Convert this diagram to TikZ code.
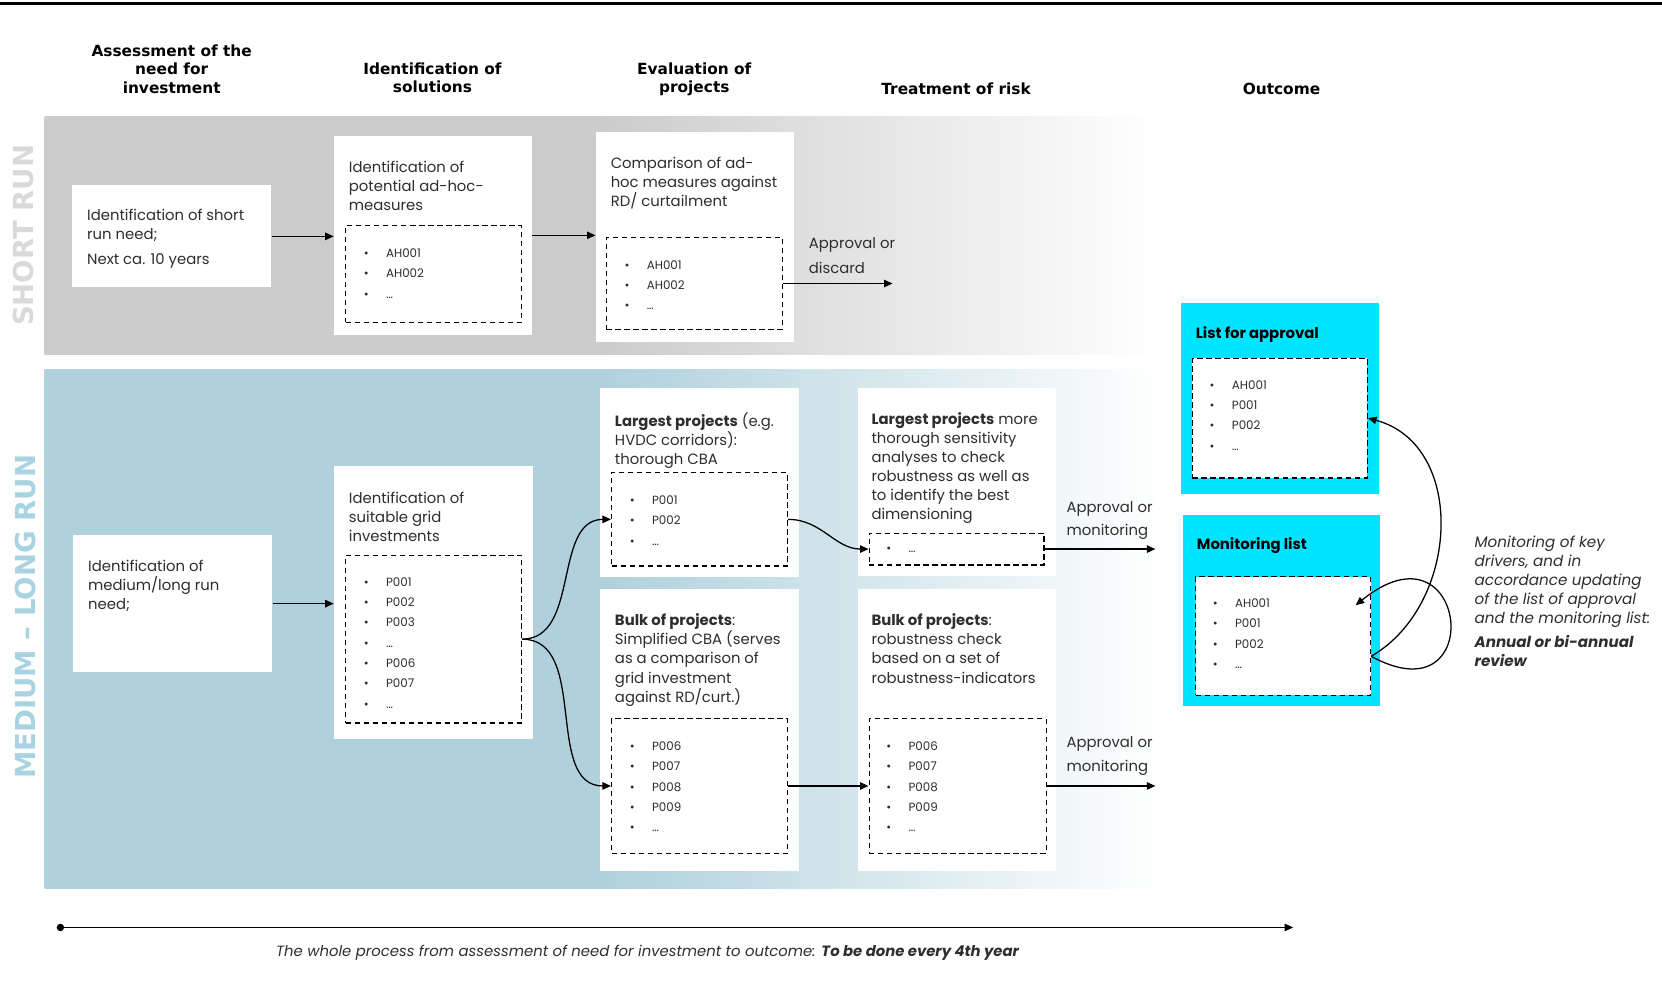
\documentclass[tikz,border=0pt]{standalone}
\usepackage{fontspec}
\setmainfont{Poppins}
\newfontfamily\headfont{DejaVu Sans}
\usetikzlibrary{arrows.meta}

\definecolor{bandgray}{HTML}{CCCCCC}
\definecolor{bandblue}{HTML}{B0D1DC}
\definecolor{labgray}{HTML}{D9D9D9}
\definecolor{labblue}{HTML}{A9D3E1}
\definecolor{outcyan}{HTML}{00E5FF}
\definecolor{ink}{HTML}{2E2E2E}

% bullets of a project list, one line each
\newcommand{\bulletlist}[4]{%
  \foreach \itm [count=\i] in {#4}
    {\node[entry] (#3\i) at (#1,#2+19.2*\i-19.2) {\makebox[21pt][l]{\textbullet}\itm};}}

\begin{document}
\begin{tikzpicture}[x=1pt,y=-1pt,
    card/.style={fill=white,inner sep=0pt},
    cyanbox/.style={fill=outcyan,inner sep=0pt},
    dbox/.style={draw=black,fill=white,line width=1.2pt,dash pattern=on 5pt off 3.5pt,inner sep=0pt},
    txt/.style={anchor=north west,align=left,inner sep=0pt,yshift=4pt,text=ink,
      font=\fontsize{14}{18}\selectfont,execute at begin node=\strut},
    entry/.style={anchor=base west,inner sep=0pt,yshift=-4pt,text=ink,font=\fontsize{11.2}{12}\selectfont},
    colhead/.style={anchor=north,align=center,inner sep=0pt,yshift=5.25pt,
      font=\headfont\bfseries\fontsize{14.5}{17.5}\selectfont,execute at begin node=\strut},
    runlabel/.style={rotate=90,inner sep=0pt,font=\headfont\bfseries\fontsize{26}{26}\selectfont},
    flow/.style={line width=1.2pt,-{Triangle[length=8pt,width=7pt]}}]
  \useasboundingbox (0,0) rectangle (1568,936);
  \draw[line width=2.5pt] (0,3) -- (1568,3);

  % the two bands, solid on the left half and fading out to the right
  \shade[left color=bandgray,right color=white,middle color=bandgray] (42,110) rectangle (1092,334);
  \shade[left color=bandblue,right color=white,middle color=bandblue] (42,349) rectangle (1096,838);
  \node[runlabel,text=labgray] (srun) at (22,222) {SHORT RUN};
  \node[runlabel,text=labblue] (mrun) at (24,582) {MEDIUM \textendash{} LONG RUN};

  % column heads
  \node[colhead] (h1) at (162,47) {Assessment of the\\need for\\investment};
  \node[colhead] (h2) at (408,64) {Identification of\\solutions};
  \node[colhead] (h3) at (655,64) {Evaluation of\\projects};
  \node[colhead] (h4) at (902,82) {Treatment of risk};
  \node[colhead] (h5) at (1209,82) {Outcome};

  % short run
  \node[card,minimum width=188pt,minimum height=96pt] (s1) at (162,223) {};
  \node[txt] (s1t) at (82,201) {Identification of short\\run need;\\[6pt]Next ca. 10 years};
  \node[card,minimum width=187pt,minimum height=188pt] (s2) at (408.5,222) {};
  \node[txt] (s2t) at (329,156) {Identification of\\potential ad-hoc-\\measures};
  \node[dbox,minimum width=166pt,minimum height=91pt] (s2l) at (409,258.5) {};
  \bulletlist{343}{239}{s2i}{AH001,AH002,\dots}
  \node[card,minimum width=187pt,minimum height=198pt] (s3) at (655.5,224) {};
  \node[txt] (s3t) at (576,152) {Comparison of ad-\\hoc measures against\\RD/ curtailment};
  \node[dbox,minimum width=166pt,minimum height=87pt] (s3l) at (655,267.5) {};
  \bulletlist{589}{250}{s3i}{AH001,AH002,\dots}
  \node[txt] (sdec) at (763,228) {Approval or\\[5pt]discard};
  \coordinate (sout) at (842,267.5);

  % medium - long run
  \node[card,minimum width=188pt,minimum height=129pt] (m1) at (163,569.5) {};
  \node[txt] (m1t) at (83,532) {Identification of\\medium/long run\\need;};
  \node[card,minimum width=188pt,minimum height=257pt] (m2) at (409,568.5) {};
  \node[txt] (m2t) at (329,468) {Identification of\\suitable grid\\investments};
  \node[dbox,minimum width=166pt,minimum height=158pt] (m2l) at (409,603) {};
  \bulletlist{343}{549}{m2i}{P001,P002,P003,\dots,P006,P007,\dots}

  \node[card,minimum width=188pt,minimum height=178pt] (m3a) at (660,455) {};
  \node[txt] (m3at) at (580,393) {\textbf{Largest projects} (e.g.\\HVDC corridors):\\thorough CBA};
  \node[dbox,minimum width=166pt,minimum height=88pt] (m3al) at (660,490) {};
  \bulletlist{594}{472}{m3ai}{P001,P002,\dots}
  \node[card,minimum width=188pt,minimum height=266pt] (m3b) at (660,689) {};
  \node[txt] (m3bt) at (580,583) {\textbf{Bulk of projects}:\\Simplified CBA (serves\\as a comparison of\\grid investment\\against RD/curt.)};
  \node[dbox,minimum width=166pt,minimum height=127pt] (m3bl) at (660,741.5) {};
  \bulletlist{594}{704}{m3bi}{P006,P007,P008,P009,\dots}

  \node[card,minimum width=187pt,minimum height=177pt] (m4a) at (902.5,454.5) {};
  \node[txt] (m4at) at (822,393) {\textbf{Largest projects} more\\thorough sensitivity\\analyses to check\\robustness as well as\\to identify the best\\dimensioning};
  \node[dbox,minimum width=165pt,minimum height=30pt] (m4al) at (902.5,518) {};
  \bulletlist{836}{517}{m4ai}{\dots}
  \node[card,minimum width=187pt,minimum height=266pt] (m4b) at (902.5,689) {};
  \node[txt] (m4bt) at (822,583) {\textbf{Bulk of projects}:\\robustness check\\based on a set of\\robustness-indicators};
  \node[dbox,minimum width=167pt,minimum height=127pt] (m4bl) at (903.5,741.5) {};
  \bulletlist{836}{704}{m4bi}{P006,P007,P008,P009,\dots}
  \node[txt] (mdec1) at (1006,477) {Approval or\\[4pt]monitoring};
  \node[txt] (mdec2) at (1006,699) {Approval or\\[4pt]monitoring};
  \coordinate (mout1) at (1090,518);
  \coordinate (mout2) at (1090,741.5);

  % outcome lists
  \node[cyanbox,minimum width=187pt,minimum height=180pt] (o1) at (1207.5,376) {};
  \node[txt,text=black,font=\bfseries\fontsize{14}{18}\selectfont] (o1t) at (1128,311) {List for approval};
  \node[dbox,minimum width=165pt,minimum height=113pt] (o1l) at (1207.5,394.5) {};
  \bulletlist{1141}{363}{o1i}{AH001,P001,P002,\dots}
  \node[cyanbox,minimum width=186pt,minimum height=180pt] (o2) at (1209,576) {};
  \node[txt,text=black,font=\bfseries\fontsize{14}{18}\selectfont] (o2t) at (1129,510) {Monitoring list};
  \node[dbox,minimum width=165pt,minimum height=112pt] (o2l) at (1210.5,600) {};
  \bulletlist{1144}{569}{o2i}{AH001,P001,P002,\dots}
  \coordinate (loopend) at (1279,571);
  \node[txt,font=\itshape\fontsize{14.3}{18}\selectfont] (review) at (1391,509)
    {Monitoring of key\\drivers, and in\\accordance updating\\of the list of approval\\and the monitoring list:\\[5pt]\textbf{Annual or bi-annual}\\\textbf{review}};

  % time line
  \node[circle,fill=black,inner sep=0pt,minimum size=7pt] (t0) at (57,875) {};
  \coordinate (t1) at (1220,875);
  \node[text=ink,inner sep=0pt,font=\itshape\fontsize{14}{16}\selectfont] (cycle) at (611,899)
    {The whole process from assessment of need for investment to outcome: \textbf{To be done every 4th year}};

  % connectors
  \draw[flow] (s1.east) -- (s1.east -| s2.west);
  \draw[flow] (s2.east) -- (s2.east -| s3.west);
  \draw[flow] (s3l.east) -- (sout);
  \draw[flow] (m1.east) -- (m1.east -| m2.west);
  \draw[flow] (m2l.east) to[out=0,in=180] (m3al.west);
  \draw[flow] (m2l.east) to[out=0,in=180] (m3bl.west);
  \draw[flow] (m3al.east) to[out=0,in=180] (m4al.west);
  \draw[flow] (m3bl.east) -- (m4bl.west);
  \draw[flow] (m4al.east) -- (mout1);
  \draw[flow] (m4bl.east) -- (mout2);
  \draw[flow] (o2l.-13) to[out=30,in=-15,looseness=1.1] (o1l.east);
  \draw[flow] (o2l.-13) .. controls (1405,680) and (1385,485) .. (loopend);
  \draw[line width=1.2pt,-{Triangle[length=8pt,width=7pt]}] (t0) -- (t1);
\end{tikzpicture}
\end{document}
